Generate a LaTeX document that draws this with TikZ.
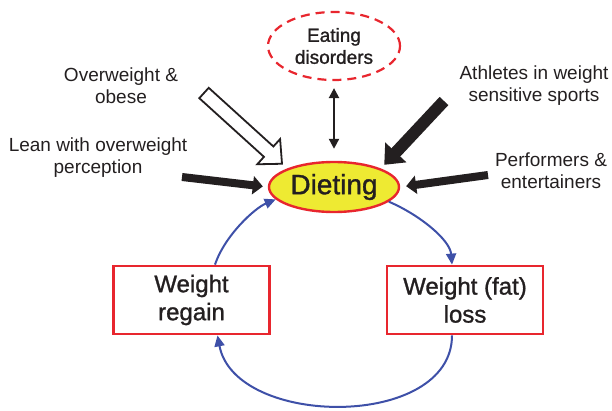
\documentclass[tikz,border=0pt]{standalone}
\usepackage{fontspec}
\setmainfont{Liberation Sans}
\newfontfamily\heavysans[FakeBold=1.2]{Liberation Sans}
\usetikzlibrary{arrows.meta,shapes.geometric,calc}
\definecolor{dred}{RGB}{232,38,46}
\definecolor{dyel}{RGB}{238,234,50}
\definecolor{dblue}{RGB}{62,80,168}
\definecolor{dtxt}{RGB}{35,31,32}
\tikzset{
  lbl/.style={align=center,text=dtxt,font=\fontsize{19}{22}\selectfont,inner sep=0pt},
  eatnode/.style={ellipse,draw=dred,line width=2.2pt,dash pattern=on 9pt off 6pt,minimum width=132pt,minimum height=68pt,inner sep=0pt,align=center,text=dtxt,font=\heavysans\fontsize{19}{22}\selectfont},
  dietnode/.style={ellipse,draw=dred,fill=dyel,line width=2.4pt,minimum width=130pt,minimum height=50pt,inner sep=0pt,text=dtxt,font=\heavysans\fontsize{28}{30}\selectfont},
  boxnode/.style={rectangle,draw=dred,line width=2.8pt,minimum width=156pt,minimum height=68pt,inner sep=0pt,align=center,text=dtxt,font=\heavysans\fontsize{24}{28}\selectfont},
  blkthin/.style={draw=dtxt,line width=8pt,-{Triangle[length=10pt,width=18pt]}},
  blkthick/.style={draw=dtxt,line width=12pt,-{Triangle[length=17pt,width=28pt]}},
  hollow/.style={draw=dtxt,fill=white,line width=1.8pt,line join=miter},
  dbl/.style={draw=dtxt,line width=2.2pt,{Triangle[length=10pt,width=10pt]}-{Triangle[length=10pt,width=10pt]}},
  cyc/.style={draw=dblue,line width=2pt,-{Triangle[length=11pt,width=10pt]}}
}
\begin{document}
\begin{tikzpicture}[x=1pt,y=-1pt]
\useasboundingbox (0,0) rectangle (612,411);
% nodes
\node[eatnode] (eat) at (334,46) {Eating\\disorders};
\node[dietnode] (diet) at (334,187) {Dieting};
\node[boxnode] (regain) at (191.5,300) {Weight\\regain};
\node[boxnode] (loss) at (465,300) {Weight (fat)\\loss};
\node[lbl] (ow) at (121,86) {Overweight \&\\obese};
\node[lbl] (lean) at (98,158) {Lean with overweight\\perception};
\node[lbl] (ath) at (534,86) {Athletes in weight\\sensitive sports};
\node[lbl] (perf) at (551,171) {Performers \&\\entertainers};
% arrow tails
\coordinate (leanT) at (182,177);
\coordinate (perfT) at (488,175);
\coordinate (athT) at (444,101);
\coordinate (owT) at (204,93);
% black arrows
\draw[blkthin,shorten >=5pt] (leanT) -- (diet.west);
\draw[blkthin,shorten >=6pt] (perfT) -- (diet.east);
\draw[blkthick,shorten >=5pt] (athT) -- (diet.north east);
% hollow block arrow
\coordinate (owTip) at ($(diet.north west)!7pt!(owT)$);
\coordinate (owB) at ($(owTip)!18pt!(owT)$);
\draw[hollow] ($(owT)!7pt!90:(owTip)$) -- ($(owB)!7pt!90:(owTip)$) -- ($(owB)!17pt!90:(owTip)$) -- (owTip)
  -- ($(owB)!17pt!-90:(owTip)$) -- ($(owB)!7pt!-90:(owTip)$) -- ($(owT)!7pt!-90:(owTip)$) -- cycle;
% double arrow
\draw[dbl,shorten <=7pt,shorten >=12pt] (eat.south) -- (diet.north);
% cycle
\draw[cyc] (diet.-15) .. controls (420,215) and (450,240) .. ([xshift=-13pt]loss.north);
\draw[cyc] ([xshift=-13pt]loss.south) .. controls (452,430) and (235,428) .. ([xshift=26pt]regain.south);
\draw[cyc] ([xshift=23.5pt]regain.north) .. controls (225,235) and (255,208) .. (diet.192);
\end{tikzpicture}
\end{document}
